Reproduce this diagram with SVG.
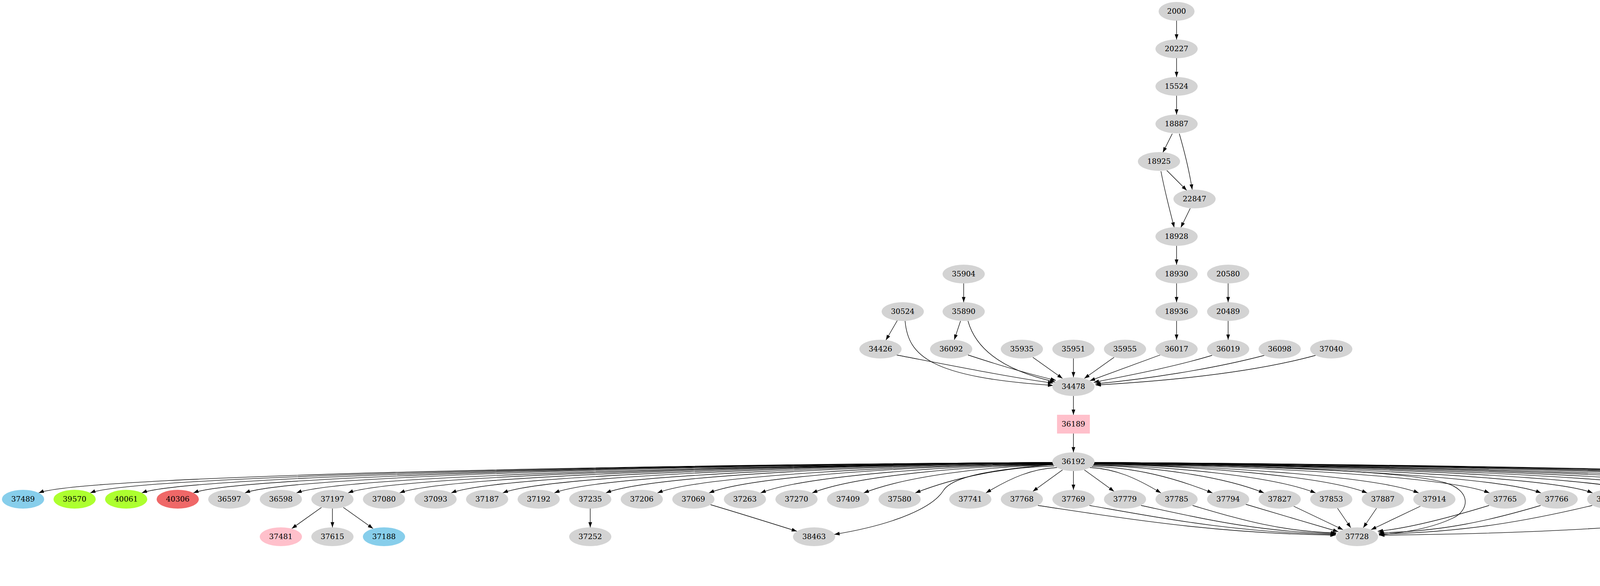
<svg xmlns="http://www.w3.org/2000/svg" width="5497" height="1499" viewBox="0 0 5497 1499">
<style>
.n{fill:#d3d3d3;stroke:none}
.sb{fill:#87ceeb}
.gy{fill:#adff2f}
.rd{fill:#ef6868}
.pk{fill:#ffc0cb}
.or{fill:#ffa500}
text{font-family:"DejaVu Serif","Liberation Serif",serif;font-size:19px;text-anchor:middle;fill:#000}
#edges path{fill:none;stroke:#000;stroke-width:1.33;marker-end:url(#ah)}
</style>
<defs>
<marker id="ah" viewBox="-14 -6 15 12" markerWidth="15" markerHeight="12" refX="0" refY="0" orient="auto" markerUnits="userSpaceOnUse">
<polygon points="0,0 -13.3,-4.7 -13.3,4.7" fill="#000"/>
</marker>
</defs>
<rect width="5497" height="1499" fill="#fff"/>
<g id="edges">
<path d="M3012,53 L3012,101"/>
<path d="M3012,149 L3012,197"/>
<path d="M3012,245 L3012,293"/>
<path d="M3001,342 L2977,390"/>
<path d="M3019,342 C3030,380 3045,440 3052,485"/>
<path d="M2987,436 L3038,487"/>
<path d="M2972,438 C2980,480 2995,540 3006,582"/>
<path d="M3047,533 L3023,582"/>
<path d="M3012,629 L3012,677"/>
<path d="M3012,725 L3012,773"/>
<path d="M3012,821 L3012,869"/>
<path d="M3144,725 L3144,773"/>
<path d="M3144,821 L3144,869"/>
<path d="M2467,725 L2467,773"/>
<path d="M2297,820 L2268,870"/>
<path d="M2459,821 L2443,869"/>
<path d="M2317,821 C2325,910 2380,965 2696,986"/>
<path d="M2295,908 C2420,932 2600,968 2696,980"/>
<path d="M2478,821 C2500,900 2580,950 2701,977"/>
<path d="M2478,908 C2560,935 2640,958 2703,973"/>
<path d="M2644,914 L2720,968"/>
<path d="M2748,917 L2748,965"/>
<path d="M2852,914 L2776,968"/>
<path d="M2970,908 L2790,974"/>
<path d="M3103,909 C3000,940 2880,962 2800,978"/>
<path d="M3237,909 C3100,945 2930,970 2804,982"/>
<path d="M3368,909 C3200,955 2980,975 2805,985"/>
<path d="M2748,1013 L2748,1061"/>
<path d="M2748,1109 L2748,1157"/>
<path d="M2694,1183 C1786,1187 216,1214 99,1261"/>
<path d="M2694,1183 C1832,1187 348,1214 231,1261"/>
<path d="M2694,1183 C1878,1187 480,1214 363,1261"/>
<path d="M2694,1183 C1924,1187 612,1214 495,1261"/>
<path d="M2694,1183 C1971,1187 744,1214 627,1261"/>
<path d="M2694,1184 C2017,1188 876,1215 759,1261"/>
<path d="M2694,1184 C2063,1188 1006,1215 891,1261"/>
<path d="M2694,1184 C2109,1188 1138,1215 1023,1261"/>
<path d="M2695,1184 C2156,1188 1270,1215 1155,1261"/>
<path d="M2695,1184 C2202,1188 1402,1215 1287,1261"/>
<path d="M2695,1185 C2248,1189 1533,1215 1419,1261"/>
<path d="M2695,1185 C2295,1189 1665,1215 1551,1261"/>
<path d="M2695,1186 C2341,1190 1795,1216 1683,1261"/>
<path d="M2695,1186 C2387,1190 1927,1216 1815,1261"/>
<path d="M2696,1187 C2434,1191 2058,1217 1947,1261"/>
<path d="M2696,1188 C2480,1192 2188,1217 2079,1261"/>
<path d="M2697,1189 C2527,1193 2319,1218 2211,1261"/>
<path d="M2699,1192 C2574,1195 2447,1220 2343,1261"/>
<path d="M2706,1196 C2642,1199 2588,1222 2524,1261"/>
<path d="M2720,1202 L2644,1257"/>
<path d="M2748,1205 L2748,1253"/>
<path d="M2776,1202 L2852,1257"/>
<path d="M2790,1196 C2854,1199 2908,1222 2972,1261"/>
<path d="M2795,1193 C2903,1196 3002,1220 3104,1261"/>
<path d="M2798,1190 C2951,1194 3130,1218 3236,1261"/>
<path d="M2799,1189 C2998,1193 3260,1218 3368,1261"/>
<path d="M2800,1187 C3045,1191 3389,1217 3500,1261"/>
<path d="M2801,1187 C3092,1191 3521,1217 3632,1261"/>
<path d="M2801,1186 C3155,1190 3701,1216 3813,1261"/>
<path d="M2801,1185 C3201,1189 3831,1215 3945,1261"/>
<path d="M2801,1185 C3248,1189 3963,1215 4077,1261"/>
<path d="M2801,1184 C3294,1188 4094,1215 4209,1261"/>
<path d="M2802,1184 C3341,1188 4226,1215 4341,1261"/>
<path d="M2802,1184 C3387,1188 4358,1215 4473,1261"/>
<path d="M2802,1184 C3433,1188 4490,1215 4605,1261"/>
<path d="M2802,1184 C3479,1188 4622,1215 4737,1261"/>
<path d="M2802,1183 C3525,1187 4752,1214 4869,1261"/>
<path d="M2802,1183 C3572,1187 4884,1214 5001,1261"/>
<path d="M2802,1183 C3618,1187 5016,1214 5133,1261"/>
<path d="M2802,1183 C3664,1187 5148,1214 5265,1261"/>
<path d="M2802,1183 C3710,1187 5280,1214 5397,1261"/>
<path d="M2697,1188 C2560,1200 2440,1215 2415,1255 C2390,1295 2300,1340 2136,1367"/>
<path d="M2802,1185 C3250,1192 3600,1205 3700,1235 C3767,1255 3762,1305 3720,1325 C3660,1354 3580,1364 3530,1368"/>
<path d="M3524,1300 L3490,1350"/>
<path d="M3424,1300 L3458,1350"/>
<path d="M3636,1295 L3510,1355"/>
<path d="M3312,1295 L3438,1355"/>
<path d="M3189,1290 C3260,1311 3350,1338 3426,1360"/>
<path d="M3053,1293 C3163,1325 3274,1360 3421,1363"/>
<path d="M2921,1293 C3071,1325 3220,1361 3420,1365"/>
<path d="M2789,1293 C2978,1326 3168,1363 3420,1367"/>
<path d="M2657,1293 C2886,1327 3114,1365 3419,1369"/>
<path d="M3812,1293 C3740,1315 3620,1350 3527,1359"/>
<path d="M3944,1293 C3819,1330 3695,1360 3529,1363"/>
<path d="M4076,1293 C3912,1332 3748,1362 3530,1366"/>
<path d="M4606,1292 C4330,1345 3961,1365 3531,1369"/>
<path d="M823,1298 L747,1352"/>
<path d="M851,1301 L851,1349"/>
<path d="M879,1298 L955,1352"/>
<path d="M1511,1301 L1511,1349"/>
<path d="M1819,1291 C1890,1312 1970,1337 2040,1359"/>
<path d="M4645,1301 L4645,1349"/>
<path d="M5437,1301 L5437,1349"/>
<path d="M5437,1397 L5437,1445"/>
</g>
<g id="n2000"><ellipse class="n" cx="3012" cy="29" rx="46" ry="24"/><text x="3012" y="35">2000</text></g>
<g id="n20227"><ellipse class="n" cx="3012" cy="125" rx="54" ry="24"/><text x="3012" y="131">20227</text></g>
<g id="n15524"><ellipse class="n" cx="3012" cy="221" rx="54" ry="24"/><text x="3012" y="227">15524</text></g>
<g id="n18887"><ellipse class="n" cx="3012" cy="317" rx="54" ry="24"/><text x="3012" y="323">18887</text></g>
<g id="n18925"><ellipse class="n" cx="2967" cy="413" rx="54" ry="24"/><text x="2967" y="419">18925</text></g>
<g id="n22847"><ellipse class="n" cx="3058" cy="509" rx="54" ry="24"/><text x="3058" y="515">22847</text></g>
<g id="n18928"><ellipse class="n" cx="3012" cy="605" rx="54" ry="24"/><text x="3012" y="611">18928</text></g>
<g id="n35904"><ellipse class="n" cx="2467" cy="701" rx="54" ry="24"/><text x="2467" y="707">35904</text></g>
<g id="n18930"><ellipse class="n" cx="3012" cy="701" rx="54" ry="24"/><text x="3012" y="707">18930</text></g>
<g id="n20580"><ellipse class="n" cx="3144" cy="701" rx="54" ry="24"/><text x="3144" y="707">20580</text></g>
<g id="n30524"><ellipse class="n" cx="2311" cy="797" rx="54" ry="24"/><text x="2311" y="803">30524</text></g>
<g id="n35890"><ellipse class="n" cx="2467" cy="797" rx="54" ry="24"/><text x="2467" y="803">35890</text></g>
<g id="n18936"><ellipse class="n" cx="3012" cy="797" rx="54" ry="24"/><text x="3012" y="803">18936</text></g>
<g id="n20489"><ellipse class="n" cx="3144" cy="797" rx="54" ry="24"/><text x="3144" y="803">20489</text></g>
<g id="n34426"><ellipse class="n" cx="2254" cy="893" rx="54" ry="24"/><text x="2254" y="899">34426</text></g>
<g id="n36092"><ellipse class="n" cx="2435" cy="893" rx="54" ry="24"/><text x="2435" y="899">36092</text></g>
<g id="n35935"><ellipse class="n" cx="2616" cy="893" rx="54" ry="24"/><text x="2616" y="899">35935</text></g>
<g id="n35951"><ellipse class="n" cx="2748" cy="893" rx="54" ry="24"/><text x="2748" y="899">35951</text></g>
<g id="n35955"><ellipse class="n" cx="2880" cy="893" rx="54" ry="24"/><text x="2880" y="899">35955</text></g>
<g id="n36017"><ellipse class="n" cx="3012" cy="893" rx="54" ry="24"/><text x="3012" y="899">36017</text></g>
<g id="n36019"><ellipse class="n" cx="3144" cy="893" rx="54" ry="24"/><text x="3144" y="899">36019</text></g>
<g id="n36098"><ellipse class="n" cx="3276" cy="893" rx="54" ry="24"/><text x="3276" y="899">36098</text></g>
<g id="n37040"><ellipse class="n" cx="3408" cy="893" rx="54" ry="24"/><text x="3408" y="899">37040</text></g>
<g id="n34478"><ellipse class="n" cx="2748" cy="989" rx="54" ry="24"/><text x="2748" y="995">34478</text></g>
<g id="n36189"><rect class="n pk" x="2706" y="1061" width="84" height="48"/><text x="2748" y="1091">36189</text></g>
<g id="n36192"><ellipse class="n" cx="2748" cy="1181" rx="54" ry="24"/><text x="2748" y="1187">36192</text></g>
<g id="n37489"><ellipse class="n sb" cx="59" cy="1277" rx="54" ry="24"/><text x="59" y="1283">37489</text></g>
<g id="n39570"><ellipse class="n gy" cx="191" cy="1277" rx="54" ry="24"/><text x="191" y="1283">39570</text></g>
<g id="n40061"><ellipse class="n gy" cx="323" cy="1277" rx="54" ry="24"/><text x="323" y="1283">40061</text></g>
<g id="n40306"><ellipse class="n rd" cx="455" cy="1277" rx="54" ry="24"/><text x="455" y="1283">40306</text></g>
<g id="n36597"><ellipse class="n" cx="587" cy="1277" rx="54" ry="24"/><text x="587" y="1283">36597</text></g>
<g id="n36598"><ellipse class="n" cx="719" cy="1277" rx="54" ry="24"/><text x="719" y="1283">36598</text></g>
<g id="n37197"><ellipse class="n" cx="851" cy="1277" rx="54" ry="24"/><text x="851" y="1283">37197</text></g>
<g id="n37080"><ellipse class="n" cx="983" cy="1277" rx="54" ry="24"/><text x="983" y="1283">37080</text></g>
<g id="n37093"><ellipse class="n" cx="1115" cy="1277" rx="54" ry="24"/><text x="1115" y="1283">37093</text></g>
<g id="n37187"><ellipse class="n" cx="1247" cy="1277" rx="54" ry="24"/><text x="1247" y="1283">37187</text></g>
<g id="n37192"><ellipse class="n" cx="1379" cy="1277" rx="54" ry="24"/><text x="1379" y="1283">37192</text></g>
<g id="n37235"><ellipse class="n" cx="1511" cy="1277" rx="54" ry="24"/><text x="1511" y="1283">37235</text></g>
<g id="n37206"><ellipse class="n" cx="1643" cy="1277" rx="54" ry="24"/><text x="1643" y="1283">37206</text></g>
<g id="n37069"><ellipse class="n" cx="1775" cy="1277" rx="54" ry="24"/><text x="1775" y="1283">37069</text></g>
<g id="n37263"><ellipse class="n" cx="1907" cy="1277" rx="54" ry="24"/><text x="1907" y="1283">37263</text></g>
<g id="n37270"><ellipse class="n" cx="2039" cy="1277" rx="54" ry="24"/><text x="2039" y="1283">37270</text></g>
<g id="n37409"><ellipse class="n" cx="2171" cy="1277" rx="54" ry="24"/><text x="2171" y="1283">37409</text></g>
<g id="n37580"><ellipse class="n" cx="2303" cy="1277" rx="54" ry="24"/><text x="2303" y="1283">37580</text></g>
<g id="n37741"><ellipse class="n" cx="2484" cy="1277" rx="54" ry="24"/><text x="2484" y="1283">37741</text></g>
<g id="n37768"><ellipse class="n" cx="2616" cy="1277" rx="54" ry="24"/><text x="2616" y="1283">37768</text></g>
<g id="n37769"><ellipse class="n" cx="2748" cy="1277" rx="54" ry="24"/><text x="2748" y="1283">37769</text></g>
<g id="n37779"><ellipse class="n" cx="2880" cy="1277" rx="54" ry="24"/><text x="2880" y="1283">37779</text></g>
<g id="n37785"><ellipse class="n" cx="3012" cy="1277" rx="54" ry="24"/><text x="3012" y="1283">37785</text></g>
<g id="n37794"><ellipse class="n" cx="3144" cy="1277" rx="54" ry="24"/><text x="3144" y="1283">37794</text></g>
<g id="n37827"><ellipse class="n" cx="3276" cy="1277" rx="54" ry="24"/><text x="3276" y="1283">37827</text></g>
<g id="n37853"><ellipse class="n" cx="3408" cy="1277" rx="54" ry="24"/><text x="3408" y="1283">37853</text></g>
<g id="n37887"><ellipse class="n" cx="3540" cy="1277" rx="54" ry="24"/><text x="3540" y="1283">37887</text></g>
<g id="n37914"><ellipse class="n" cx="3672" cy="1277" rx="54" ry="24"/><text x="3672" y="1283">37914</text></g>
<g id="n37765"><ellipse class="n" cx="3853" cy="1277" rx="54" ry="24"/><text x="3853" y="1283">37765</text></g>
<g id="n37766"><ellipse class="n" cx="3985" cy="1277" rx="54" ry="24"/><text x="3985" y="1283">37766</text></g>
<g id="n37767"><ellipse class="n" cx="4117" cy="1277" rx="54" ry="24"/><text x="4117" y="1283">37767</text></g>
<g id="n37916"><ellipse class="n" cx="4249" cy="1277" rx="54" ry="24"/><text x="4249" y="1283">37916</text></g>
<g id="n37959"><ellipse class="n" cx="4381" cy="1277" rx="54" ry="24"/><text x="4381" y="1283">37959</text></g>
<g id="n37961"><ellipse class="n" cx="4513" cy="1277" rx="54" ry="24"/><text x="4513" y="1283">37961</text></g>
<g id="n37783"><ellipse class="n" cx="4645" cy="1277" rx="54" ry="24"/><text x="4645" y="1283">37783</text></g>
<g id="n38275"><ellipse class="n" cx="4777" cy="1277" rx="54" ry="24"/><text x="4777" y="1283">38275</text></g>
<g id="n38309"><ellipse class="n" cx="4909" cy="1277" rx="54" ry="24"/><text x="4909" y="1283">38309</text></g>
<g id="n38328"><ellipse class="n" cx="5041" cy="1277" rx="54" ry="24"/><text x="5041" y="1283">38328</text></g>
<g id="n38378"><ellipse class="n" cx="5173" cy="1277" rx="54" ry="24"/><text x="5173" y="1283">38378</text></g>
<g id="n38382"><ellipse class="n" cx="5305" cy="1277" rx="54" ry="24"/><text x="5305" y="1283">38382</text></g>
<g id="n37993"><ellipse class="n" cx="5437" cy="1277" rx="54" ry="24"/><text x="5437" y="1283">37993</text></g>
<g id="n37481"><ellipse class="n pk" cx="719" cy="1373" rx="54" ry="24"/><text x="719" y="1379">37481</text></g>
<g id="n37615"><ellipse class="n" cx="851" cy="1373" rx="54" ry="24"/><text x="851" y="1379">37615</text></g>
<g id="n37188"><ellipse class="n sb" cx="983" cy="1373" rx="54" ry="24"/><text x="983" y="1379">37188</text></g>
<g id="n37252"><ellipse class="n" cx="1511" cy="1373" rx="54" ry="24"/><text x="1511" y="1379">37252</text></g>
<g id="n38463"><ellipse class="n" cx="2084" cy="1373" rx="54" ry="24"/><text x="2084" y="1379">38463</text></g>
<g id="n37728"><ellipse class="n" cx="3474" cy="1373" rx="54" ry="24"/><text x="3474" y="1379">37728</text></g>
<g id="n37817"><ellipse class="n pk" cx="4645" cy="1373" rx="54" ry="24"/><text x="4645" y="1379">37817</text></g>
<g id="n39572"><ellipse class="n gy" cx="5437" cy="1373" rx="54" ry="24"/><text x="5437" y="1379">39572</text></g>
<g id="n40587"><ellipse class="n or" cx="5437" cy="1469" rx="54" ry="24"/><text x="5437" y="1475">40587</text></g>
</svg>
